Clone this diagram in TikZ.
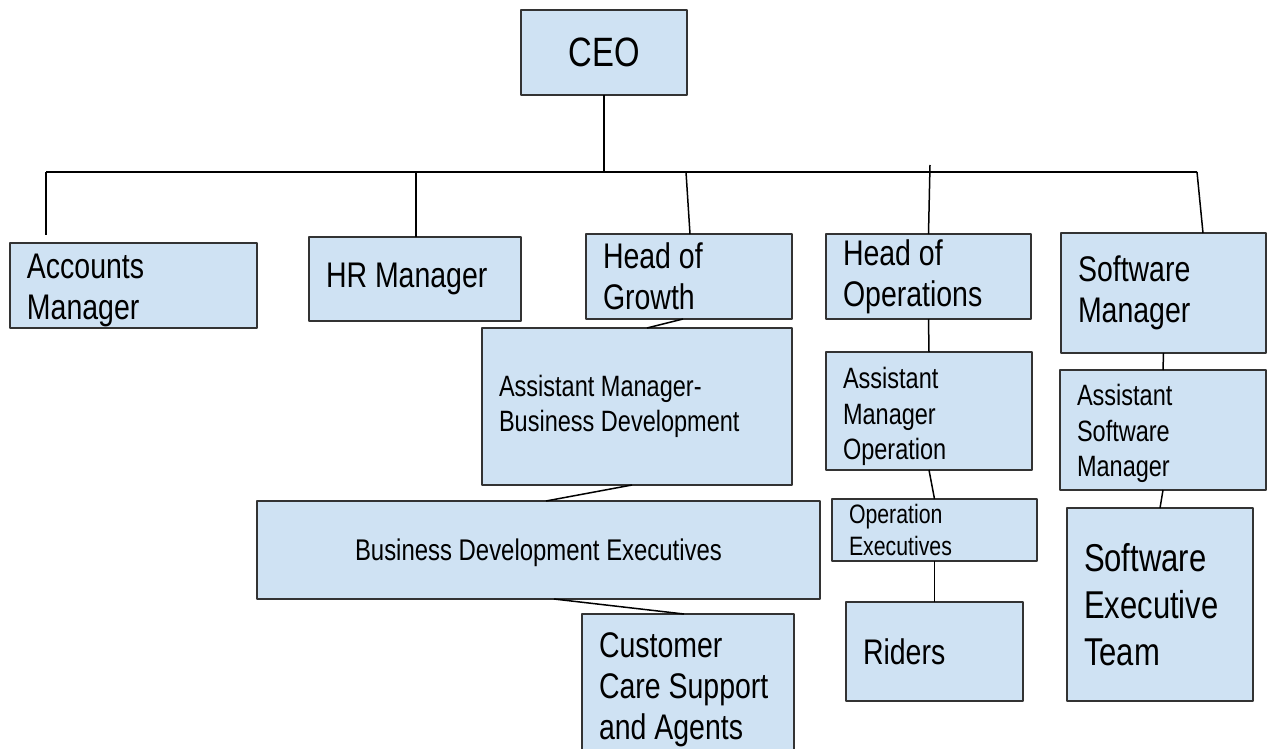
\documentclass[tikz,border=0pt]{standalone}
\usepackage{fontspec}
\setmainfont{Liberation Sans}[FakeStretch=0.8]
\definecolor{azulcaja}{HTML}{CFE2F3}
\definecolor{bordecaja}{HTML}{333333}
\newcommand\letracabeza{\fontsize{41pt}{41pt}\selectfont}
\newcommand\letragrande{\fontsize{35.6pt}{41pt}\selectfont}
\newcommand\letramedia{\fontsize{29.4pt}{35.5pt}\selectfont}
\newcommand\letrachica{\fontsize{26.6pt}{32pt}\selectfont}
\newcommand\letraequipo{\fontsize{38.8pt}{47pt}\selectfont}
\newcommand\alto[1]{\rule{0pt}{#1pt}}
\tikzset{
  caja/.style={draw=bordecaja, fill=azulcaja, line width=1.8pt, inner xsep=17pt,
    inner ysep=0pt, outer sep=0pt, align=flush left, font=\letragrande},
  linea/.style={draw=black, line width=1.5pt}
}
\begin{document}
\begin{tikzpicture}[x=1pt, y=-1pt, line join=round]
  \useasboundingbox (0,0) rectangle (1274,749);
  \clip (0,0) rectangle (1274,749);
  \fill[white] (0,0) rectangle (1274,749);
  % la dirección y la barra de la que cuelgan los jefes
  \node[caja, align=center, minimum width=166pt, minimum height=85pt, font=\letracabeza]
    (ceo) at (604,52.5) {CEO};
  \coordinate (bus oeste) at (46,172);
  \coordinate (bus este) at (1197,172);
  % primera fila
  \node[caja, text width=213pt, minimum height=85pt] (cuentas) at (133.5,285.5) {\alto{35}Accounts\\Manager};
  \node[caja, text width=178pt, minimum height=84pt] (rrhh) at (415,279) {HR Manager};
  \node[caja, text width=172pt, minimum height=85pt] (crecimiento) at (689,276.5) {Head of\\Growth};
  \node[caja, text width=171pt, minimum height=85pt] (operaciones) at (928.5,276.5) {Head of\\Operations};
  \node[caja, text width=171pt, minimum height=120pt] (software) at (1163.5,293) {Software\\Manager};
  % rama de crecimiento
  \node[caja, text width=276pt, minimum height=157pt, font=\letramedia] (asistnegocio) at (637,406.5)
    {Assistant Manager-\\Business Development};
  \node[caja, align=center, minimum width=563pt, minimum height=98pt, font=\fontsize{29.9pt}{34pt}\selectfont]
    (ejecnegocio) at (538.5,550) {\alto{27.5}Business Development Executives};
  \node[caja, text width=178pt, minimum height=152pt, anchor=north] (clientes) at (688,614)
    {Customer\\Care Support\\and Agents};
  % rama de operaciones
  \node[caja, text width=172pt, minimum height=118pt, font=\letramedia] (asistoper) at (929,411)
    {\alto{33}Assistant\\Manager\\Operation};
  \node[caja, text width=171pt, minimum height=62pt, font=\letrachica] (ejecoper) at (934.5,530)
    {Operation\\Executives};
  \node[caja, text width=143pt, minimum height=99pt] (repartidores) at (934.5,651.5) {Riders};
  % rama de software
  \node[caja, text width=172pt, minimum height=120pt, font=\letramedia] (asistsoft) at (1163,430)
    {\alto{29}Assistant\\Software\\Manager};
  \node[caja, text width=152pt, minimum height=193pt, font=\letraequipo] (equiposoft) at (1160,604.5)
    {Software\\Executive\\Team};
  % las líneas de mando
  \draw[linea] (ceo.south) -- (ceo.south |- bus oeste);
  \draw[linea] (bus oeste) -- (bus este);
  \draw[linea, shorten >=8pt] (bus oeste) -- (bus oeste |- cuentas.north);
  \draw[linea] ([xshift=1pt]rrhh.north |- bus oeste) -- ([xshift=1pt]rrhh.north);
  \draw[linea] ([xshift=-3pt]crecimiento.north |- bus oeste) -- ([xshift=1pt]crecimiento.north);
  \draw[linea] ([xshift=1.5pt,yshift=7pt]operaciones.north |- bus oeste) -- (operaciones.north);
  \draw[linea] (bus este) -- ([xshift=39.5pt]software.north);
  \draw[linea] ([xshift=-6pt]crecimiento.south) -- ([xshift=10pt]asistnegocio.north);
  \draw[linea] ([xshift=-5pt]asistnegocio.south) -- ([xshift=7.5pt]ejecnegocio.north);
  \draw[linea] ([xshift=15.5pt]ejecnegocio.south) -- ([xshift=-4pt]clientes.north);
  \foreach \a/\b in {operaciones/asistoper, asistoper/ejecoper, ejecoper/repartidores,
                     software/asistsoft, asistsoft/equiposoft} {
    \draw[linea] (\a.south) -- (\b.north);
  }
\end{tikzpicture}
\end{document}
